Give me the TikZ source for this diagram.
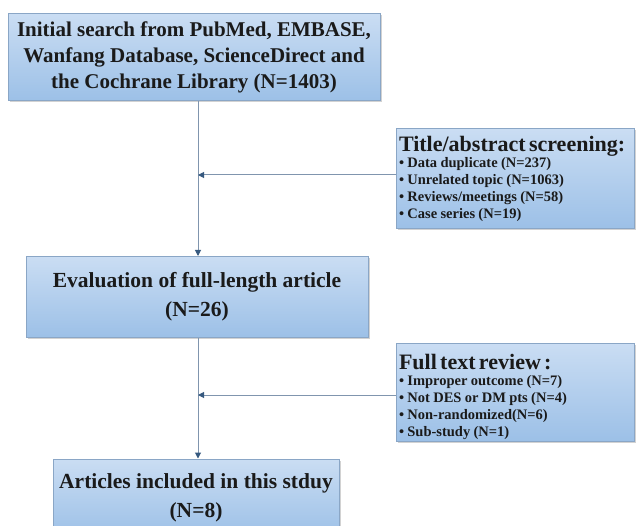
\documentclass[tikz,border=0pt]{standalone}
\usepackage{fontspec}
\setmainfont{Liberation Serif}
\usetikzlibrary{arrows.meta,shadows}
\definecolor{boxtop}{HTML}{CADDF3}
\definecolor{boxbot}{HTML}{9CC0E7}
\definecolor{boxline}{HTML}{8AA6C6}
\definecolor{conn}{HTML}{8095AE}
\definecolor{tip}{HTML}{36597F}
\definecolor{txt}{HTML}{1A1A1A}
\tikzset{
  flowbox/.style={draw=boxline, line width=1pt, top color=boxtop, bottom color=boxbot,
    inner sep=0pt, font=\bfseries, text=txt, align=center,
    drop shadow={shadow xshift=1.5pt, shadow yshift=-1.5pt, fill=black!35, opacity=0.5}},
  sidebox/.style={flowbox, align=left, text width=232pt, inner sep=3pt},
  conn/.style={draw=conn, line width=1pt},
  arr/.style={conn, -{Triangle[length=6pt,width=6pt,fill=tip,color=tip]}}
}
\newcommand{\headfont}{\fontsize{22}{24}\selectfont\bfseries}
\newcommand{\itemfont}{\fontsize{14.5}{17}\selectfont\bfseries}
\begin{document}
\begin{tikzpicture}[x=1pt,y=-1pt]
\useasboundingbox (0,0) rectangle (636,526);
\clip (0,0) rectangle (636,526);
\node[flowbox, minimum width=372pt, minimum height=87pt, font=\fontsize{21}{26}\selectfont\bfseries] (b1) at (194,57.5)
  {Initial search from PubMed, EMBASE,\\Wanfang Database, ScienceDirect and\\the Cochrane Library (N=1403)};
\node[flowbox, minimum width=342pt, minimum height=81pt, font=\fontsize{21.5}{29}\selectfont\bfseries] (b2) at (197,297)
  {Evaluation of full-length article\\(N=26)};
\node[flowbox, minimum width=286pt, minimum height=78pt, font=\fontsize{21.5}{29}\selectfont\bfseries] (b3) at (196,498)
  {Articles included in this stduy\\(N=8)};
\node[sidebox, minimum width=238pt, minimum height=100pt] (r1) at (515,179)
  {\headfont Title/abstract screening:\par\vspace{-1pt}
   \itemfont
   • Data duplicate (N=237)\par
   • Unrelated topic (N=1063)\par
   • Reviews/meetings (N=58)\par
   • Case series (N=19)\par\vspace{0pt}};
\node[sidebox, minimum width=238pt, minimum height=98pt] (r2) at (515,392)
  {\headfont Full text review :\par\vspace{-1pt}
   \itemfont
   • Improper outcome (N=7)\par
   • Not DES or DM pts (N=4)\par
   • Non-randomized(N=6)\par
   • Sub-study (N=1)\par\vspace{-10pt}};
\coordinate (j1) at (198,175);
\coordinate (j2) at (198,395);
\draw[arr] (b1.south -| j1) -- (b2.north -| j1);
\draw[arr] (r1.west |- j1) -- (j1);
\draw[arr] (b2.south -| j2) -- (b3.north -| j2);
\draw[arr] (r2.west |- j2) -- (j2);
\end{tikzpicture}
\end{document}
